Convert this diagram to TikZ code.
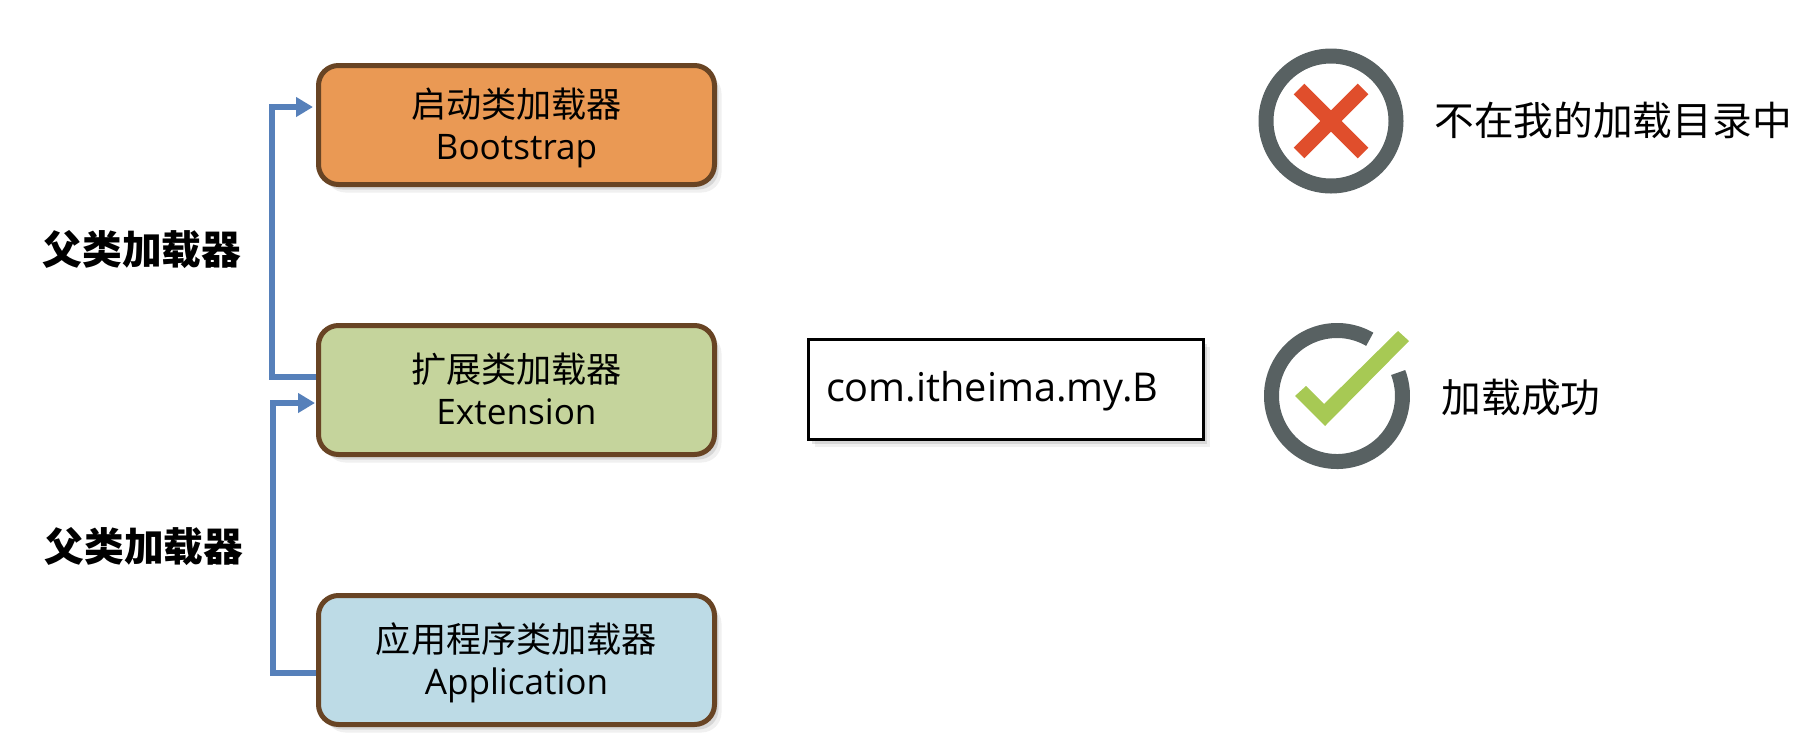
\documentclass[tikz,border=0pt]{standalone}
\usepackage{fontspec}
\setmainfont{Open Sans}
\newfontfamily\cjk{Noto Sans CJK SC}
\usetikzlibrary{arrows.meta, shadows}
\definecolor{bootorange}{RGB}{234,153,84}
\definecolor{extgreen}{RGB}{197,212,156}
\definecolor{appblue}{RGB}{189,219,230}
\definecolor{edgebrown}{RGB}{104,68,36}
\definecolor{arrowblue}{RGB}{86,128,186}
\definecolor{ringgray}{RGB}{88,97,98}
\definecolor{crossred}{RGB}{224,78,44}
\definecolor{tickgreen}{RGB}{167,201,84}
\newcommand{\loadertext}[2]{{\cjk\rule{0pt}{10.1pt}#1}\\\rule[-2.4pt]{0pt}{2.4pt}#2}
\tikzset{
  softshadow/.style={
    drop shadow={shadow xshift=0.07cm,shadow yshift=-0.08cm,opacity=0.12},
    drop shadow={shadow xshift=0.04cm,shadow yshift=-0.05cm,opacity=0.22}},
  loaderbox/.style={draw=edgebrown,line width=0.05cm,rounded corners=0.2cm,
    minimum width=3.96cm,minimum height=1.29cm,align=center,
    font=\fontsize{10}{11.7}\selectfont,softshadow},
  parentlabel/.style={font=\cjk\bfseries\fontsize{11.3}{13}\selectfont},
  hintlabel/.style={font=\cjk\fontsize{11.3}{13}\selectfont},
  parentarrow/.style={arrowblue,line width=0.06cm,-{Triangle[length=0.17cm,width=0.19cm]}},
  ring/.style={ringgray,line width=0.15cm},
  crossarm/.style={crossred,line width=0.15cm}
}
\begin{document}
\begin{tikzpicture}
  \useasboundingbox (0,0) rectangle (18.12,7.32);
  \node[loaderbox,fill=bootorange,minimum height=1.19cm] (bootbox) at(5.165,6.07){\loadertext{启动类加载器}{Bootstrap}};
  \node[loaderbox,fill=extgreen] (extbox) at(5.165,3.42){\loadertext{扩展类加载器}{Extension}};
  \node[loaderbox,fill=appblue] (appbox) at(5.165,0.72){\loadertext{应用程序类加载器}{Application}};
  \node[draw=black,line width=0.03cm,fill=white,minimum width=3.95cm,minimum height=1.0cm,
    inner xsep=0.18cm,text width=3.59cm,align=left,font=\fontsize{11.3}{13}\selectfont,
    softshadow] (classbox) at(10.055,3.43){\rule{0pt}{9.9pt}com.itheima.my.B};
  % labels
  \node[parentlabel] (upperlabel) at(1.42,4.82){父类加载器};
  \node[parentlabel] (lowerlabel) at(1.44,1.85){父类加载器};
  \node[hintlabel] (misslabel) at(16.13,6.12){不在我的加载目录中};
  \node[hintlabel] (oklabel) at(15.21,3.34){加载成功};
  % arrows
  \coordinate (upperbend) at(2.72,4.0);
  \coordinate (lowerbend) at(2.73,1.0);
  \draw[parentarrow] ([yshift=0.13cm]extbox.west) -- ([yshift=0.13cm]extbox.west -| upperbend)
    |- ([xshift=-0.03cm,yshift=0.18cm]bootbox.west);
  \draw[parentarrow] ([yshift=-0.13cm]appbox.west) -- ([yshift=-0.13cm]appbox.west -| lowerbend)
    |- ([xshift=-0.01cm,yshift=-0.13cm]extbox.west);
  % cross icon
  \coordinate (missmark) at(13.31,6.11);
  \draw[ring] (missmark) circle(0.65cm);
  \draw[crossarm] ([shift={(-0.32,0.32)}]missmark) -- ([shift={(0.32,-0.32)}]missmark);
  \draw[crossarm] ([shift={(0.32,0.32)}]missmark) -- ([shift={(-0.32,-0.32)}]missmark);
  % tick icon
  \coordinate (okmark) at(13.37,3.36);
  \draw[ring] ([shift={(60:0.655cm)}]okmark) arc[start angle=60,end angle=381,radius=0.655cm];
  \fill[tickgreen] (12.95,3.36) -- (13.06,3.46) -- (13.24,3.28) -- (13.98,4.01) -- (14.09,3.91) -- (13.25,3.06) -- cycle;
\end{tikzpicture}
\end{document}
